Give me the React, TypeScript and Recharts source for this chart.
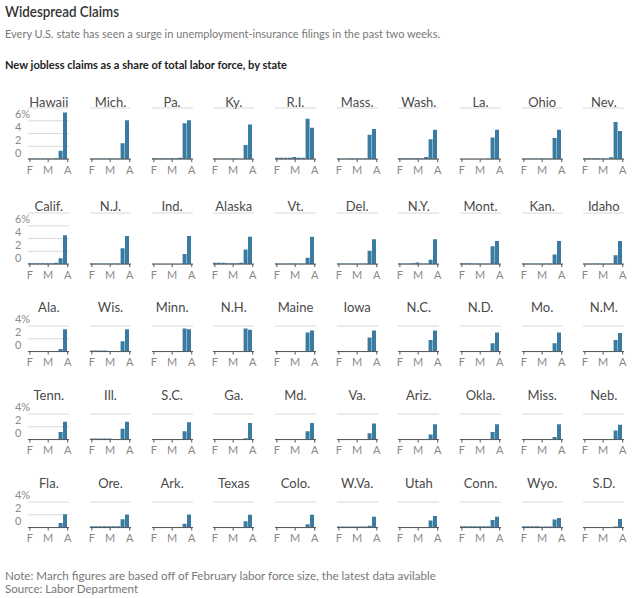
import React from 'react';
import { BarChart, Bar, XAxis, YAxis, CartesianGrid } from 'recharts';

const FONT = "Lato, 'Noto Sans', sans-serif";

const stateNames = [
  'Hawaii', 'Mich.', 'Pa.', 'Ky.', 'R.I.', 'Mass.', 'Wash.', 'La.', 'Ohio', 'Nev.',
  'Calif.', 'N.J.', 'Ind.', 'Alaska', 'Vt.', 'Del.', 'N.Y.', 'Mont.', 'Kan.', 'Idaho',
  'Ala.', 'Wis.', 'Minn.', 'N.H.', 'Maine', 'Iowa', 'N.C.', 'N.D.', 'Mo.', 'N.M.',
  'Tenn.', 'Ill.', 'S.C.', 'Ga.', 'Md.', 'Va.', 'Ariz.', 'Okla.', 'Miss.', 'Neb.',
  'Fla.', 'Ore.', 'Ark.', 'Texas', 'Colo.', 'W.Va.', 'Utah', 'Conn.', 'Wyo.', 'S.D.',
];

// week ending dates, as days after Feb. 1, 2020 (Feb 1 ... Mar 28)
const weekDays = [0, 7, 14, 21, 28, 35, 42, 49, 56];
// F = Feb 1, M = Mar 1, A = Apr 1
const monthTickDays = [0, 29, 60];
const monthLabels = ['F', 'M', 'A'];

const rowTicks = [[0, 2, 4, 6], [0, 2, 4, 6], [0, 2, 4], [0, 2, 4], [0, 2, 4]];
const rowDomainMax = [8, 8, 4, 4, 4];

// New jobless claims as % of labor force, weekly
const claims = [
  [0.1, 0.1, 0.1, 0.1, 0.1, 0.1, 0.15, 1.3, 7.3],   // Hawaii
  [0.1, 0.1, 0.1, 0.1, 0.1, 0.1, 0.1, 2.5, 6.1],    // Mich.
  [0.15, 0.15, 0.15, 0.15, 0.15, 0.15, 0.2, 5.6, 6.1], // Pa.
  [0.1, 0.1, 0.1, 0.1, 0.1, 0.1, 0.1, 2.2, 5.4],    // Ky.
  [0.2, 0.2, 0.2, 0.2, 0.35, 0.2, 0.2, 6.3, 4.9],   // R.I.
  [0.1, 0.1, 0.1, 0.15, 0.1, 0.1, 0.15, 3.8, 4.7],  // Mass.
  [0.15, 0.15, 0.15, 0.15, 0.15, 0.15, 0.35, 3.1, 4.6], // Wash.
  [0.05, 0.05, 0.05, 0.05, 0.05, 0.05, 0.1, 3.4, 4.6], // La.
  [0.1, 0.1, 0.1, 0.1, 0.1, 0.1, 0.1, 3.3, 4.6],    // Ohio
  [0.15, 0.15, 0.15, 0.15, 0.1, 0.1, 0.3, 5.8, 4.4], // Nev.
  [0.15, 0.15, 0.15, 0.15, 0.15, 0.15, 0.2, 0.9, 4.5], // Calif.
  [0.1, 0.1, 0.1, 0.1, 0.1, 0.1, 0.1, 2.5, 4.4],    // N.J.
  [0.05, 0.05, 0.05, 0.05, 0.05, 0.05, 0.05, 1.6, 4.4], // Ind.
  [0.2, 0.2, 0.2, 0.15, 0.15, 0.15, 0.2, 2.3, 4.3], // Alaska
  [0.1, 0.1, 0.1, 0.1, 0.1, 0.1, 0.1, 1.0, 4.3],    // Vt.
  [0.1, 0.1, 0.1, 0.1, 0.1, 0.1, 0.1, 2.1, 3.9],    // Del.
  [0.1, 0.1, 0.1, 0.15, 0.25, 0.1, 0.1, 0.7, 3.9],  // N.Y.
  [0.15, 0.15, 0.15, 0.1, 0.1, 0.1, 0.1, 2.8, 3.6], // Mont.
  [0.1, 0.1, 0.1, 0.1, 0.1, 0.1, 0.1, 1.5, 3.6],    // Kan.
  [0.1, 0.1, 0.1, 0.1, 0.1, 0.1, 0.1, 1.4, 3.6],    // Idaho
  [0.05, 0.05, 0.05, 0.05, 0.05, 0.05, 0.05, 0.4, 3.5], // Ala.
  [0.15, 0.15, 0.15, 0.15, 0.1, 0.1, 0.1, 1.6, 3.5], // Wis.
  [0.1, 0.1, 0.1, 0.1, 0.1, 0.1, 0.1, 3.6, 3.5],    // Minn.
  [0.05, 0.05, 0.05, 0.05, 0.05, 0.05, 0.05, 3.6, 3.4], // N.H.
  [0.1, 0.1, 0.1, 0.1, 0.1, 0.1, 0.1, 3.0, 3.3],    // Maine
  [0.1, 0.1, 0.1, 0.1, 0.1, 0.1, 0.1, 2.2, 3.3],    // Iowa
  [0.05, 0.05, 0.05, 0.05, 0.05, 0.05, 0.05, 1.8, 3.3], // N.C.
  [0.1, 0.1, 0.1, 0.1, 0.1, 0.1, 0.1, 1.3, 3.0],    // N.D.
  [0.1, 0.1, 0.1, 0.1, 0.1, 0.1, 0.1, 1.3, 3.0],    // Mo.
  [0.05, 0.05, 0.05, 0.05, 0.05, 0.05, 0.05, 1.8, 2.9], // N.M.
  [0.05, 0.05, 0.05, 0.05, 0.05, 0.05, 0.05, 1.2, 2.8], // Tenn.
  [0.15, 0.15, 0.15, 0.15, 0.15, 0.1, 0.1, 1.7, 2.8], // Ill.
  [0.05, 0.05, 0.05, 0.05, 0.05, 0.05, 0.05, 1.3, 2.7], // S.C.
  [0.1, 0.1, 0.1, 0.1, 0.1, 0.1, 0.1, 0.2, 2.6],    // Ga.
  [0.05, 0.05, 0.05, 0.05, 0.05, 0.05, 0.05, 1.3, 2.6], // Md.
  [0.05, 0.05, 0.05, 0.05, 0.05, 0.05, 0.05, 1.0, 2.5], // Va.
  [0.05, 0.05, 0.05, 0.05, 0.05, 0.05, 0.05, 0.8, 2.4], // Ariz.
  [0.05, 0.05, 0.05, 0.05, 0.05, 0.05, 0.05, 1.2, 2.4], // Okla.
  [0.05, 0.05, 0.05, 0.05, 0.05, 0.05, 0.05, 0.4, 2.4], // Miss.
  [0.05, 0.05, 0.05, 0.05, 0.05, 0.05, 0.05, 1.4, 2.3], // Neb.
  [0.05, 0.05, 0.05, 0.05, 0.05, 0.05, 0.05, 0.7, 2.1], // Fla.
  [0.2, 0.2, 0.2, 0.2, 0.2, 0.2, 0.2, 1.3, 2.05],   // Ore.
  [0.1, 0.1, 0.1, 0.1, 0.1, 0.1, 0.1, 0.6, 2.05],   // Ark.
  [0.1, 0.1, 0.1, 0.1, 0.1, 0.1, 0.1, 1.0, 2.0],    // Texas
  [0.05, 0.05, 0.05, 0.05, 0.05, 0.05, 0.05, 0.5, 2.0], // Colo.
  [0.15, 0.15, 0.15, 0.15, 0.15, 0.15, 0.15, 0.3, 1.7], // W.Va.
  [0.05, 0.05, 0.05, 0.05, 0.05, 0.05, 0.05, 1.1, 1.8], // Utah
  [0.2, 0.2, 0.2, 0.2, 0.2, 0.2, 0.2, 1.2, 1.7],    // Conn.
  [0.2, 0.2, 0.2, 0.2, 0.15, 0.15, 0.15, 1.25, 1.5], // Wyo.
  [0.05, 0.05, 0.05, 0.05, 0.05, 0.05, 0.05, 0.15, 1.35], // S.D.
];

const PCT_PX = 6.39;
const PLOT_W = 41;
const COL0 = 28.3;
const COL_PITCH = 61.67;
const rowBaselines = [159.5, 264, 352, 440, 528];

function Mini({ idx }: { idx: number }) {
  const row = Math.floor(idx / 10);
  const col = idx % 10;
  const ticks = rowTicks[row];
  const maxTick = ticks[ticks.length - 1];
  const domMax = rowDomainMax[row];
  const plotH = domMax * PCT_PX;
  const plotLeft = COL0 + col * COL_PITCH;
  const YW = 14, MT = 20, MR = 4, XH = 20;
  const width = YW + PLOT_W + MR;
  const height = MT + plotH + XH;
  const top = rowBaselines[row] - plotH - MT;
  const left = plotLeft - YW;
  const data = weekDays.map((d, i) => ({ day: d, v: claims[idx][i] }));
  const labelCenter = rowBaselines[row] - maxTick * PCT_PX - 19.3;

  const yTick = (p: any) => (
    <text x={1} y={p.y - 2.5} fontSize={11} fill="#8a8a8a" fontFamily={FONT}>
      {p.payload.value === maxTick ? `${p.payload.value}%` : `${p.payload.value}`}
    </text>
  );

  return (
    <>
      <div style={{ position: 'absolute', left, top }}>
        <BarChart width={width} height={height} data={data} margin={{ top: MT, right: MR, bottom: 0, left: 0 }}>
          <CartesianGrid vertical={false} stroke="#dadada" />
          <XAxis
            type="number"
            dataKey="day"
            domain={[-3, 62]}
            ticks={monthTickDays}
            interval={0}
            tickFormatter={(v: number) => monthLabels[monthTickDays.indexOf(v)]}
            axisLine={{ stroke: '#555' }}
            tickLine={{ stroke: '#555' }}
            tickSize={3}
            tickMargin={4}
            height={XH}
            tick={{ fontSize: 11, fill: '#888', fontFamily: FONT }}
            allowDataOverflow
          />
          <YAxis
            type="number"
            domain={[0, domMax]}
            ticks={ticks}
            interval={0}
            width={YW}
            axisLine={false}
            tickLine={false}
            tick={col === 0 ? yTick : false}
          />
          <Bar dataKey="v" fill="#3a7ba2" barSize={4} isAnimationActive={false} />
        </BarChart>
      </div>
      <div
        style={{
          position: 'absolute',
          left: plotLeft - 10,
          width: PLOT_W + 20,
          top: labelCenter - 9,
          height: 18,
          lineHeight: '18px',
          textAlign: 'center',
          fontSize: 13,
          color: '#4a4a4a',
          fontFamily: FONT,
          whiteSpace: 'nowrap',
        }}
      >
        {stateNames[idx]}
      </div>
    </>
  );
}

export default function App() {
  return (
    <div
      style={{
        position: 'absolute',
        left: 0,
        top: 0,
        width: 640,
        height: 598,
        background: '#fff',
        fontFamily: FONT,
        overflow: 'hidden',
      }}
    >
      <svg width={640} height={598} style={{ position: 'absolute', left: 0, top: 0 }}>
        <text x={5} y={17} fontSize={15.5} fontWeight={600} fill="#333" fontFamily={FONT} textLength={114} lengthAdjust="spacingAndGlyphs">
          Widespread Claims
        </text>
        <text x={5} y={37.5} fontSize={11.5} fill="#777" fontFamily={FONT} textLength={435} lengthAdjust="spacingAndGlyphs">
          Every U.S. state has seen a surge in unemployment-insurance filings in the past two weeks.
        </text>
        <text x={5} y={69} fontSize={12} fontWeight={700} fill="#222" fontFamily={FONT} textLength={282} lengthAdjust="spacingAndGlyphs">
          New jobless claims as a share of total labor force, by state
        </text>
        <text x={5} y={580} fontSize={11} fill="#777" fontFamily={FONT} textLength={431} lengthAdjust="spacingAndGlyphs">
          Note: March figures are based off of February labor force size, the latest data avilable
        </text>
        <text x={5} y={592.5} fontSize={11} fill="#777" fontFamily={FONT} textLength={133} lengthAdjust="spacingAndGlyphs">
          Source: Labor Department
        </text>
      </svg>
      {stateNames.map((_, i) => (
        <Mini key={i} idx={i} />
      ))}
    </div>
  );
}
